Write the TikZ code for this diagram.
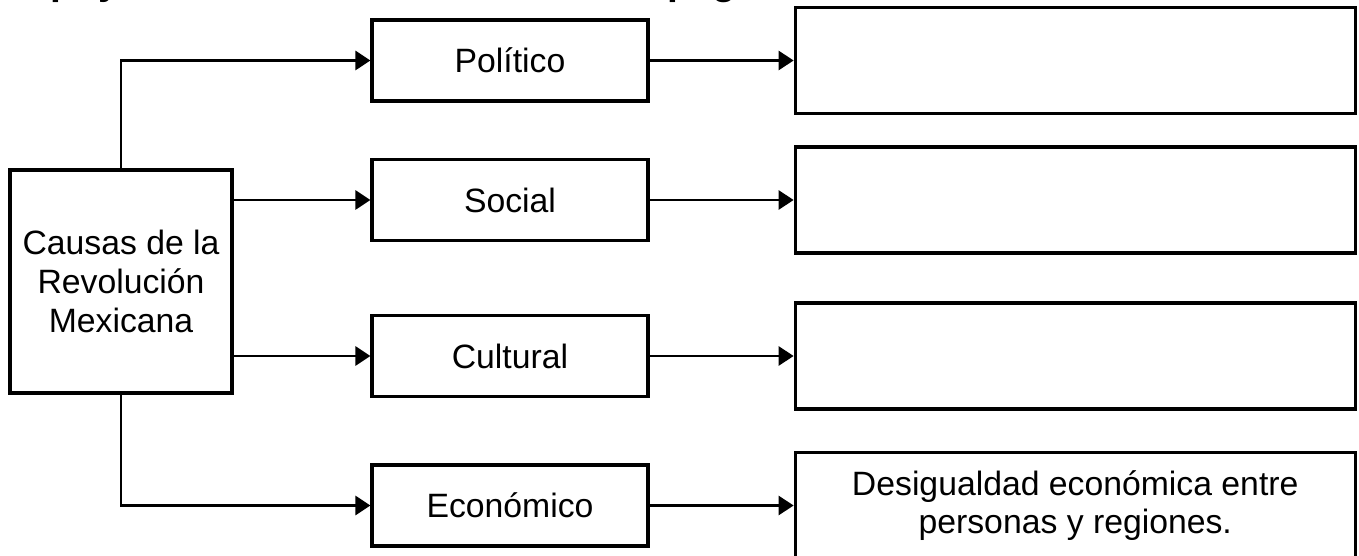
\documentclass[tikz,border=0pt]{standalone}
\usepackage{fontspec}
\setmainfont{Liberation Sans}
\usetikzlibrary{positioning, arrows.meta}
\tikzset{
    cause_node/.style={rectangle, minimum width=5.55cm, minimum height=5.575cm, text centered, align=center, draw=black, line width=2.2pt, font=\fontsize{24}{27.5}\selectfont},
    area_node/.style={rectangle, minimum width=6.9cm, minimum height=2.025cm, text centered, align=center, draw=black, line width=2.2pt, font=\fontsize{24}{27.5}\selectfont},
    answer_node/.style={rectangle, minimum width=14cm, minimum height=2.65cm, text centered, align=center, draw=black, line width=2.2pt, font=\fontsize{24}{27.5}\selectfont},
    title_text/.style={anchor=base west, inner sep=0pt, font=\fontsize{27.7}{30}\selectfont\bfseries},
    arrow/.style={line width=2pt, -{Triangle[length=0.375cm, width=0.475cm]}},
}

\begin{document}
\begin{tikzpicture}[x=0.025cm, y=-0.025cm, node distance=3.6cm]
      \useasboundingbox (0,0) rectangle (1359,556);

      %%%%%%%%%%%%%%%%%
      % INSTRUCCIONES %
      %%%%%%%%%%%%%%%%%
      \node (instrucciones) [title_text] at (22,-5)
            {Apóyate en tu libro de texto en las páginas 6-7.};

      %%%%%%%%%%
      % CAUSAS %
      %%%%%%%%%%
      \node (causas) [cause_node] at (121,281.5)
            {Causas de la \\ Revolución \\ Mexicana};

      \node (politico) [area_node] at (510,60.5) {Político};
      \node (social) [area_node] at (510,200) {Social};
      \node (cultural) [area_node] at (510,356) {Cultural};
      \node (economico) [area_node] at (510,505.5) {Económico};

      %%%%%%%%%%%%%%%
      % RESPUESTAS  %
      %%%%%%%%%%%%%%%
      \node (politico_resp) [answer_node, right = of politico] {};
      \node (social_resp) [answer_node, right = of social] {};
      \node (cultural_resp) [answer_node, right = of cultural] {};
      \node (economico_resp) [answer_node, right = of economico]
            {Desigualdad económica entre \\ personas y regiones.};

      \draw [arrow] (causas.north) |- (politico.west);
      \draw [arrow] (causas.east |- social.west) -- (social.west);
      \draw [arrow] (causas.east |- cultural.west) -- (cultural.west);
      \draw [arrow] (causas.south) |- (economico.west);

      \draw [arrow] (politico) -- (politico_resp);
      \draw [arrow] (social) -- (social_resp);
      \draw [arrow] (cultural) -- (cultural_resp);
      \draw [arrow] (economico) -- (economico_resp);
\end{tikzpicture}
\end{document}
